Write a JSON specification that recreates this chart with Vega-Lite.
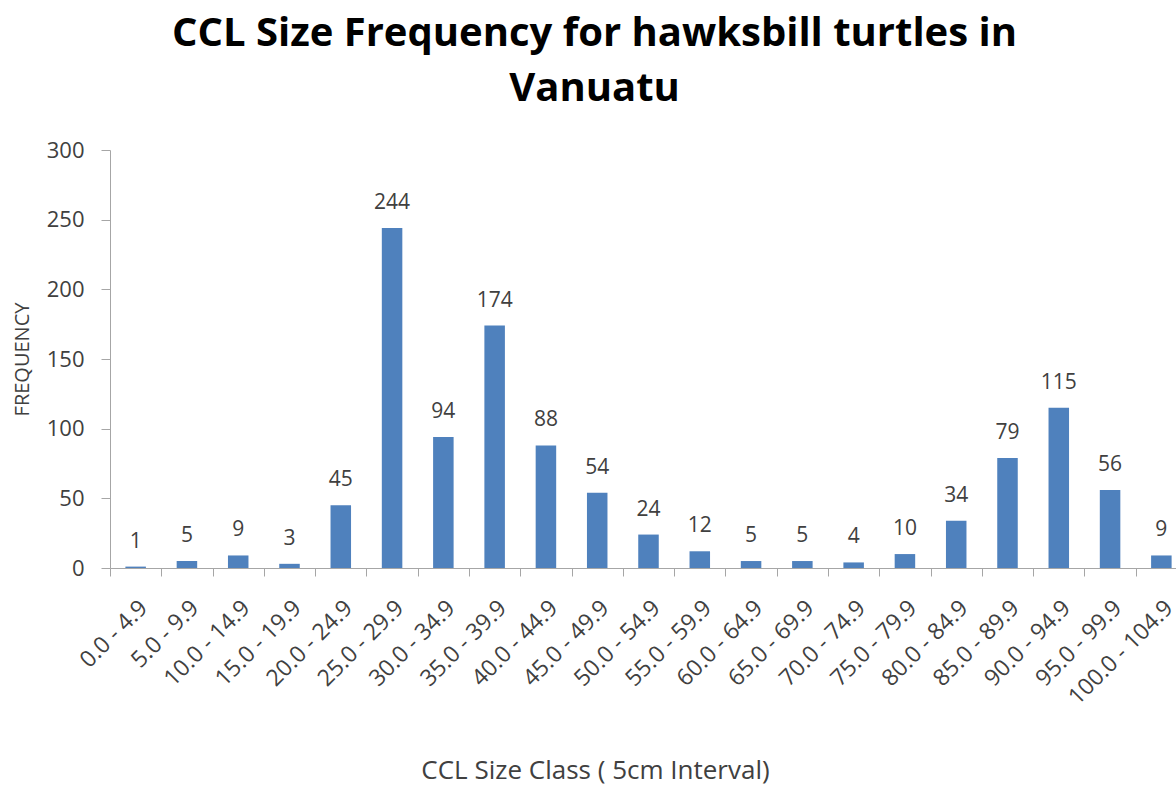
{
  "$schema": "https://vega.github.io/schema/vega-lite/v6.json",
  "autosize": "none",
  "padding": {"left": 110, "top": 150, "right": 0, "bottom": 217},
  "width": 1077,
  "height": 418,
  "background": "white",
  "config": {"view": {"stroke": null}, "font": "Open Sans"},
  "title": {
    "text": ["CCL Size Frequency for hawksbill turtles in", "Vanuatu"],
    "font": "Open Sans",
    "fontSize": 40,
    "fontWeight": "bold",
    "color": "#000000",
    "anchor": "middle",
    "dx": -54,
    "lineHeight": 55,
    "offset": 30
  },
  "data": {
    "values": [
      {"cls": "0.0 - 4.9", "freq": 1},
      {"cls": "5.0 - 9.9", "freq": 5},
      {"cls": "10.0 - 14.9", "freq": 9},
      {"cls": "15.0 - 19.9", "freq": 3},
      {"cls": "20.0 - 24.9", "freq": 45},
      {"cls": "25.0 - 29.9", "freq": 244},
      {"cls": "30.0 - 34.9", "freq": 94},
      {"cls": "35.0 - 39.9", "freq": 174},
      {"cls": "40.0 - 44.9", "freq": 88},
      {"cls": "45.0 - 49.9", "freq": 54},
      {"cls": "50.0 - 54.9", "freq": 24},
      {"cls": "55.0 - 59.9", "freq": 12},
      {"cls": "60.0 - 64.9", "freq": 5},
      {"cls": "65.0 - 69.9", "freq": 5},
      {"cls": "70.0 - 74.9", "freq": 4},
      {"cls": "75.0 - 79.9", "freq": 10},
      {"cls": "80.0 - 84.9", "freq": 34},
      {"cls": "85.0 - 89.9", "freq": 79},
      {"cls": "90.0 - 94.9", "freq": 115},
      {"cls": "95.0 - 99.9", "freq": 56},
      {"cls": "100.0 - 104.9", "freq": 9}
    ]
  },
  "encoding": {
    "x": {
      "field": "cls",
      "type": "nominal",
      "sort": null,
      "scale": {"paddingInner": 0.6, "paddingOuter": 0.3},
      "axis": {
        "bandPosition": 0,
        "tickOffset": -15.39,
        "labelOffset": 23,
        "labelAngle": -45,
        "labelAlign": "right",
        "labelBaseline": "middle",
        "labelFont": "Open Sans",
        "labelFontSize": 23,
        "labelColor": "#404040",
        "labelPadding": 28,
        "tickSize": 8,
        "tickColor": "#a6a6a6",
        "domainColor": "#a6a6a6",
        "labelOverlap": false,
        "title": "CCL Size Class ( 5cm Interval)",
        "titleFont": "Open Sans",
        "titleFontSize": 26,
        "titleFontWeight": "normal",
        "titleColor": "#404040",
        "titleX": 485,
        "titleY": 210,
        "titleAlign": "center",
        "titleBaseline": "alphabetic"
      }
    },
    "y": {
      "field": "freq",
      "type": "quantitative",
      "scale": {"domain": [0, 300], "nice": false},
      "axis": {
        "values": [0, 50, 100, 150, 200, 250, 300],
        "grid": false,
        "tickSize": 9,
        "tickColor": "#a6a6a6",
        "domainColor": "#a6a6a6",
        "labelPadding": 17,
        "labelFont": "Open Sans",
        "labelFontSize": 22,
        "labelColor": "#404040",
        "title": "FREQUENCY",
        "titleFont": "Open Sans",
        "titleFontSize": 20,
        "titleFontWeight": "normal",
        "titleColor": "#404040",
        "titleX": -88,
        "titleY": 209,
        "titleAngle": -90,
        "titleAlign": "center",
        "titleBaseline": "middle"
      }
    }
  },
  "layer": [
    {"mark": {"type": "bar", "color": "#4f81bd"}},
    {
      "mark": {"type": "text", "baseline": "alphabetic", "dy": -19, "fontSize": 21, "font": "Open Sans", "color": "#404040"},
      "encoding": {"text": {"field": "freq", "type": "quantitative"}}
    }
  ]
}
